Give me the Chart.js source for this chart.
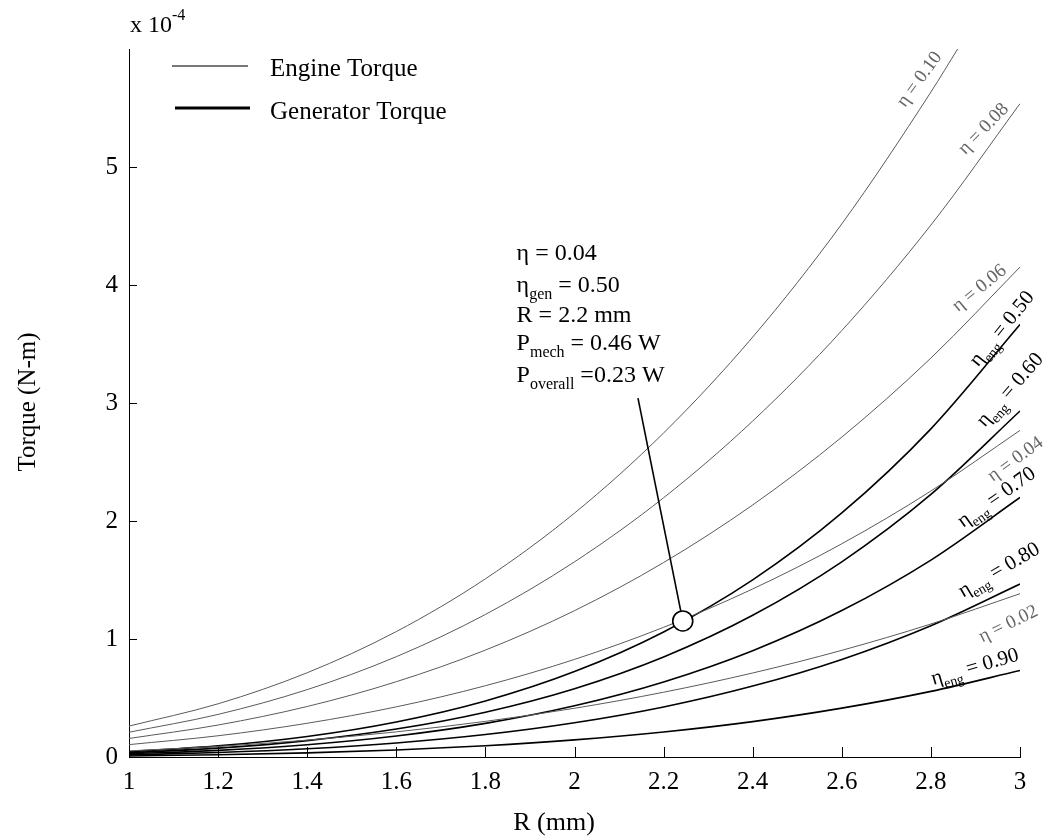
<!DOCTYPE html>
<html>
<head>
<meta charset="utf-8">
<title>Engine and generator torque vs R</title>
<script src="https://cdn.jsdelivr.net/npm/chart.js@4.4.1/dist/chart.umd.min.js"></script>
<style>
  html, body { margin: 0; padding: 0; background: #ffffff; }
  canvas { display: block; }
</style>
</head>
<body>
<canvas id="torqueChart" width="1051" height="839"></canvas>
<script>
// Rotor radius R (mm)
const radius = [1.0, 1.2, 1.4, 1.6, 1.8, 2.0, 2.2, 2.4, 2.6, 2.8, 3.0];
// the eta = 0.10 curve leaves the top of the plot near R = 2.86
const radiusTop = [1.0, 1.2, 1.4, 1.6, 1.8, 2.0, 2.2, 2.4, 2.6, 2.8, 2.86];

// Engine torque, x 1e-4 N-m (thin grey curves)
const engEta10 = [0.262, 0.451, 0.714, 1.063, 1.510, 2.067, 2.746, 3.559, 4.518, 5.635, 6.00];
const engEta08 = [0.210, 0.361, 0.571, 0.850, 1.208, 1.654, 2.197, 2.847, 3.614, 4.508, 5.537];
const engEta06 = [0.157, 0.271, 0.428, 0.638, 0.906, 1.240, 1.648, 2.136, 2.711, 3.381, 4.152];
const engEta04 = [0.105, 0.180, 0.286, 0.425, 0.604, 0.827, 1.099, 1.424, 1.807, 2.254, 2.768];
const engEta02 = [0.052, 0.090, 0.143, 0.213, 0.302, 0.413, 0.549, 0.712, 0.904, 1.127, 1.384];

// Generator torque, x 1e-4 N-m (black curves)
const genEta50 = [0.045, 0.094, 0.174, 0.297, 0.475, 0.724, 1.060, 1.501, 2.068, 2.781, 3.665];
const genEta60 = [0.036, 0.075, 0.139, 0.237, 0.380, 0.579, 0.848, 1.201, 1.654, 2.225, 2.932];
const genEta70 = [0.027, 0.056, 0.104, 0.178, 0.285, 0.434, 0.636, 0.901, 1.241, 1.669, 2.199];
const genEta80 = [0.018, 0.038, 0.070, 0.119, 0.190, 0.290, 0.424, 0.601, 0.827, 1.113, 1.466];
const genEta90 = [0.009, 0.019, 0.035, 0.059, 0.095, 0.145, 0.212, 0.300, 0.414, 0.556, 0.733];

// operating point (R, torque) marked with the circle
const opPoint = [2.243, 1.153];

const xTicks = [1, 1.2, 1.4, 1.6, 1.8, 2, 2.2, 2.4, 2.6, 2.8, 3];
const yTicks = [0, 1, 2, 3, 4, 5];

const serif = '"Liberation Serif", "Times New Roman", "DejaVu Serif", serif';
const engColor = '#5a5a5a';
const genColor = '#000000';

function pts(xs, ys) {
    return ys.map((v, i) => ({ x: xs[i], y: v }));
}

function engineSet(label, ys, xs) {
    return {
        label: label,
        data: pts(xs || radius, ys),
        borderColor: engColor,
        borderWidth: 1,
        pointRadius: 0,
        cubicInterpolationMode: 'monotone',
        fill: false
    };
}

function generatorSet(label, ys) {
    return {
        label: label,
        data: pts(radius, ys),
        borderColor: genColor,
        borderWidth: 1.6,
        pointRadius: 0,
        cubicInterpolationMode: 'monotone',
        fill: false
    };
}

// draws text made of normal / subscript / superscript pieces, returns end x
function richText(ctx, parts, x, y, size) {
    let cx = x;
    parts.forEach(p => {
        const small = p.sub || p.sup;
        const fs = small ? Math.round(size * 0.66) : size;
        ctx.font = fs + 'px ' + serif;
        const dy = p.sub ? size * 0.3 : (p.sup ? -size * 0.48 : 0);
        ctx.fillText(p.t, cx, y + dy);
        cx += ctx.measureText(p.t).width;
    });
    return cx;
}

// labels at the right-hand end of each curve (r, v = baseline start, in data units)
const curveLabels = [
    { parts: [{ t: 'η = 0.10' }], r: 2.742, v: 5.50, angle: 54, size: 19, color: '#666' },
    { parts: [{ t: 'η = 0.08' }], r: 2.877, v: 5.10, angle: 46, size: 19, color: '#666' },
    { parts: [{ t: 'η = 0.06' }], r: 2.861, v: 3.77, angle: 39, size: 19, color: '#666' },
    { parts: [{ t: 'η' }, { t: 'eng', sub: true }, { t: ' = 0.50' }], r: 2.906, v: 3.30, angle: 51, size: 21, color: '#000' },
    { parts: [{ t: 'η' }, { t: 'eng', sub: true }, { t: ' = 0.60' }], r: 2.921, v: 2.79, angle: 49, size: 21, color: '#000' },
    { parts: [{ t: 'η = 0.04' }], r: 2.939, v: 2.33, angle: 36, size: 19, color: '#666' },
    { parts: [{ t: 'η' }, { t: 'eng', sub: true }, { t: ' = 0.70' }], r: 2.872, v: 1.94, angle: 35, size: 21, color: '#000' },
    { parts: [{ t: 'η' }, { t: 'eng', sub: true }, { t: ' = 0.80' }], r: 2.872, v: 1.35, angle: 30, size: 21, color: '#000' },
    { parts: [{ t: 'η = 0.02' }], r: 2.915, v: 0.97, angle: 26, size: 19, color: '#666' },
    { parts: [{ t: 'η' }, { t: 'eng', sub: true }, { t: ' = 0.90' }], r: 2.805, v: 0.61, angle: 16, size: 21, color: '#000' }
];

// annotation block next to the operating point
const noteLines = [
    [{ t: 'η = 0.04' }],
    [{ t: 'η' }, { t: 'gen', sub: true }, { t: ' = 0.50' }],
    [{ t: 'R = 2.2 mm' }],
    [{ t: 'P' }, { t: 'mech', sub: true }, { t: ' = 0.46 W' }],
    [{ t: 'P' }, { t: 'overall', sub: true }, { t: ' =0.23 W' }]
];
const noteAnchor = [1.870, 4.212];   // left / first baseline
const noteSpacing = [0, 31.7, 61.7, 90, 121.7];
const leaderStart = [2.1425, 3.042];

const decorPlugin = {
    id: 'decor',
    afterDatasetsDraw(chart) {
        const { ctx, chartArea: a, scales: { x, y } } = chart;
        ctx.save();

        // inward tick marks
        ctx.strokeStyle = '#000';
        ctx.lineWidth = 1;
        ctx.beginPath();
        xTicks.forEach(v => {
            const px = Math.round(x.getPixelForValue(v)) + 0.5;
            ctx.moveTo(px, a.bottom);
            ctx.lineTo(px, a.bottom - 10);
        });
        yTicks.forEach(v => {
            const py = Math.round(y.getPixelForValue(v)) + 0.5;
            ctx.moveTo(a.left, py);
            ctx.lineTo(a.left + 8, py);
        });
        ctx.stroke();

        // leader line to the operating point
        const cx = x.getPixelForValue(opPoint[0]);
        const cy = y.getPixelForValue(opPoint[1]);
        const sx = x.getPixelForValue(leaderStart[0]);
        const sy = y.getPixelForValue(leaderStart[1]);
        const len = Math.hypot(cx - sx, cy - sy);
        ctx.lineWidth = 1.6;
        ctx.beginPath();
        ctx.moveTo(sx, sy);
        ctx.lineTo(cx - (cx - sx) * 10 / len, cy - (cy - sy) * 10 / len);
        ctx.stroke();

        // curve labels
        ctx.textBaseline = 'alphabetic';
        ctx.textAlign = 'left';
        curveLabels.forEach(l => {
            ctx.save();
            ctx.translate(x.getPixelForValue(l.r), y.getPixelForValue(l.v));
            ctx.rotate(-l.angle * Math.PI / 180);
            ctx.fillStyle = l.color;
            richText(ctx, l.parts, 0, 0, l.size);
            ctx.restore();
        });

        // annotation text
        ctx.fillStyle = '#000';
        const nx = x.getPixelForValue(noteAnchor[0]);
        const ny = y.getPixelForValue(noteAnchor[1]);
        noteLines.forEach((parts, i) => {
            richText(ctx, parts, nx, ny + noteSpacing[i], 24);
        });

        // legend
        ctx.strokeStyle = '#777';
        ctx.lineWidth = 2;
        ctx.beginPath();
        ctx.moveTo(a.left + 43, a.top + 17);
        ctx.lineTo(a.left + 119, a.top + 17);
        ctx.stroke();
        ctx.strokeStyle = '#000';
        ctx.lineWidth = 3;
        ctx.beginPath();
        ctx.moveTo(a.left + 46, a.top + 59);
        ctx.lineTo(a.left + 121, a.top + 59);
        ctx.stroke();
        ctx.fillStyle = '#000';
        ctx.font = '25px ' + serif;
        ctx.fillText('Engine Torque', a.left + 141, a.top + 27);
        ctx.fillText('Generator Torque', a.left + 141, a.top + 70);

        // exponent of the y axis
        richText(ctx, [{ t: 'x 10' }, { t: '-4', sup: true }], a.left + 1, 32, 24);

        // axis titles
        ctx.font = '26px ' + serif;
        ctx.textAlign = 'center';
        ctx.textBaseline = 'middle';
        ctx.fillText('R (mm)', a.left + (a.right - a.left) * 0.477, 823);
        ctx.save();
        ctx.translate(28, 402);
        ctx.rotate(-Math.PI / 2);
        ctx.font = '25px ' + serif;
        ctx.fillText('Torque (N-m)', 0, 0);
        ctx.restore();

        ctx.restore();
    }
};

new Chart(document.getElementById('torqueChart'), {
    type: 'line',
    data: {
        datasets: [
            {
                type: 'scatter',
                label: 'operating point',
                data: [{ x: opPoint[0], y: opPoint[1] }],
                pointRadius: 10,
                pointBackgroundColor: '#ffffff',
                pointBorderColor: '#000000',
                pointBorderWidth: 1.6,
                showLine: false
            },
            engineSet('η = 0.10', engEta10, radiusTop),
            engineSet('η = 0.08', engEta08),
            engineSet('η = 0.06', engEta06),
            engineSet('η = 0.04', engEta04),
            engineSet('η = 0.02', engEta02),
            generatorSet('ηeng = 0.50', genEta50),
            generatorSet('ηeng = 0.60', genEta60),
            generatorSet('ηeng = 0.70', genEta70),
            generatorSet('ηeng = 0.80', genEta80),
            generatorSet('ηeng = 0.90', genEta90)
        ]
    },
    options: {
        responsive: false,
        animation: false,
        devicePixelRatio: 1,
        layout: { padding: { top: 49, right: 31, left: 0, bottom: 0 } },
        plugins: {
            legend: { display: false },
            tooltip: { enabled: false }
        },
        scales: {
            x: {
                type: 'linear',
                min: 1,
                max: 3,
                afterFit(s) { s.height = 82; },
                grid: { display: true, drawOnChartArea: false, drawTicks: false },
                border: { display: true, color: '#000', width: 1 },
                ticks: {
                    stepSize: 0.2,
                    padding: 10,
                    color: '#000',
                    font: { family: serif, size: 25 },
                    maxRotation: 0,
                    callback: v => String(+v.toFixed(1))
                }
            },
            y: {
                type: 'linear',
                min: 0,
                max: 6,
                afterFit(s) { s.width = 129; },
                grid: { display: true, drawOnChartArea: false, drawTicks: false },
                border: { display: true, color: '#000', width: 1 },
                ticks: {
                    stepSize: 1,
                    padding: 11,
                    color: '#000',
                    font: { family: serif, size: 25 },
                    callback: v => (v > 5 ? '' : String(v))
                }
            }
        }
    },
    plugins: [decorPlugin]
});
</script>
</body>
</html>
